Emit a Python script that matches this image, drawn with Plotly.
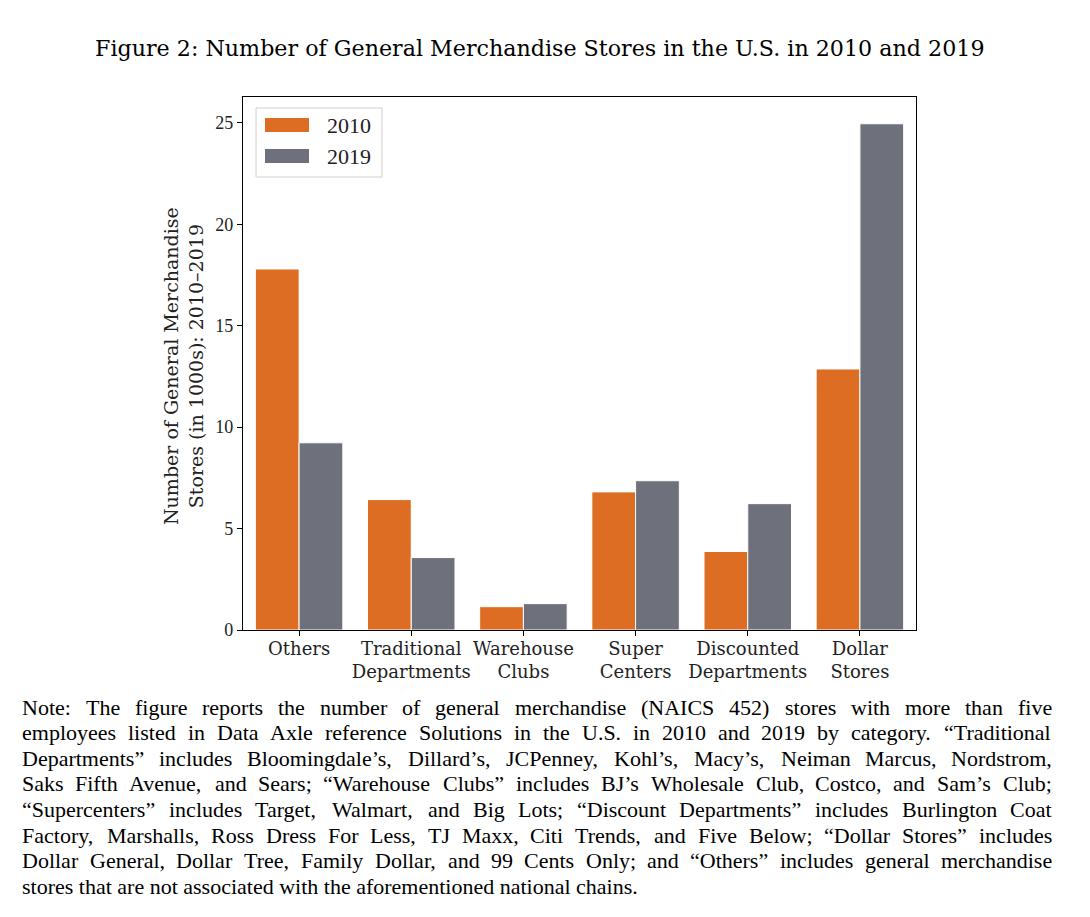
import plotly.graph_objects as go

categories = ["Others", "Traditional<br>Departments", "Warehouse<br>Clubs", "Super<br>Centers",
              "Discounted<br>Departments", "Dollar<br>Stores"]
stores_2010 = [17.8, 6.43, 1.15, 6.81, 3.87, 12.87]
stores_2019 = [9.23, 3.57, 1.30, 7.36, 6.23, 24.96]
series_names = ["2010", "2019"]
y_ticks = [0, 5, 10, 15, 20, 25]

title_text = "Figure 2: Number of General Merchandise Stores in the U.S. in 2010 and 2019"
ylabel = "Number of General Merchandise<br>Stores (in 1000s): 2010–2019"
note_lines = [
    "Note:  The figure reports the number of general merchandise (NAICS 452) stores with more than five",
    "employees listed in Data Axle reference Solutions in the U.S. in 2010 and 2019 by category.  “Traditional",
    "Departments” includes Bloomingdale’s, Dillard’s, JCPenney, Kohl’s, Macy’s, Neiman Marcus, Nordstrom,",
    "Saks Fifth Avenue, and Sears; “Warehouse Clubs” includes BJ’s Wholesale Club, Costco, and Sam’s Club;",
    "“Supercenters” includes Target, Walmart, and Big Lots; “Discount Departments” includes Burlington Coat",
    "Factory, Marshalls, Ross Dress For Less, TJ Maxx, Citi Trends, and Five Below; “Dollar Stores” includes",
    "Dollar General, Dollar Tree, Family Dollar, and 99 Cents Only; and “Others” includes general merchandise",
    "stores that are not associated with the aforementioned national chains.",
]

ORANGE = "#DC6D22"
GRAY = "#6E717C"
SERIF_WIDE = "DejaVu Serif"
SERIF = "Liberation Serif"

# ---- geometry (reference pixel space; page body adds an 8px offset) ----
OFF = 8
W, H = 1090 - 2 * OFF, 917 - 2 * OFF
PL, PR, PT, PB = 243, 916, 97, 630  # plot frame in reference pixels
L, R, T, B = PL - OFF, PR - OFF, PT - OFF, PB - OFF


def X(px):
    return (px - OFF - L) / (R - L)


def Y(py):
    return (B - (py - OFF)) / (B - T)


x = list(range(len(categories)))
fig = go.Figure()
fig.add_trace(go.Bar(x=x, y=stores_2010, name=series_names[0],
                     marker=dict(color=ORANGE, line=dict(color="white", width=1))))
fig.add_trace(go.Bar(x=x, y=stores_2019, name=series_names[1],
                     marker=dict(color=GRAY, line=dict(color="white", width=1))))

fig.update_layout(
    width=W, height=H,
    margin=dict(l=L, r=W - R, t=T, b=H - B, pad=0),
    paper_bgcolor="white", plot_bgcolor="white",
    barmode="group", bargap=0.22, bargroupgap=0,
    font=dict(family=SERIF_WIDE, size=18, color="black"),
    showlegend=False,
    xaxis=dict(range=[-0.5, 5.5], tickmode="array", tickvals=x, ticktext=categories,
               tickangle=0, ticklabelstandoff=-3,
               showline=True, linecolor="black", linewidth=1.3, mirror=True,
               ticks="outside", ticklen=5, tickcolor="black", showgrid=False, zeroline=False,
               tickfont=dict(family=SERIF_WIDE, size=18, color="#222")),
    yaxis=dict(range=[0, 26.28], tickmode="array", tickvals=y_ticks,
               showline=True, linecolor="black", linewidth=1.3, mirror=True,
               ticks="outside", ticklen=5, tickcolor="black", showgrid=False, zeroline=False,
               tickfont=dict(family=SERIF, size=18, color="#222")),
)

shapes = []
annotations = []

# title
annotations.append(dict(text=title_text, x=X(540), y=Y(48), xref="paper", yref="paper",
                        xanchor="center", yanchor="middle", showarrow=False,
                        font=dict(family=SERIF_WIDE, size=22.2, color="black")))

# y-axis label
annotations.append(dict(text=ylabel, xref="paper", yref="paper",
                        x=X(183), y=Y(366), xanchor="center", yanchor="middle",
                        textangle=-90, showarrow=False,
                        font=dict(family=SERIF_WIDE, size=19, color="#222")))

# legend (box, swatches, labels)
shapes.append(dict(type="rect", xref="paper", yref="paper",
                   x0=X(256), x1=X(382), y0=Y(108), y1=Y(177),
                   line=dict(color="#D0D0D0", width=1), fillcolor="white", layer="above"))
for color, name, yc in [(ORANGE, series_names[0], 125), (GRAY, series_names[1], 156)]:
    shapes.append(dict(type="rect", xref="paper", yref="paper",
                       x0=X(265), x1=X(309), y0=Y(yc - 7), y1=Y(yc + 7),
                       line=dict(width=0), fillcolor=color, layer="above"))
    annotations.append(dict(text=name, xref="paper", yref="paper", x=X(327), y=Y(yc + 1),
                            xanchor="left", yanchor="middle", showarrow=False,
                            borderpad=0, borderwidth=0,
                            font=dict(family=SERIF, size=22, color="#222")))

# note text, justified word by word (Times metrics, /1000 em)
CW = {" ": 250, "!": 333, "&": 778, "(": 333, ")": 333, ",": 250, "-": 333, ".": 250, ":": 278,
      ";": 278, "’": 333, "‘": 333, "“": 444, "”": 444, "–": 500, "'": 180}
for c in "0123456789":
    CW[c] = 500
CW.update(dict(zip("ABCDEFGHIJKLMNOPQRSTUVWXYZ",
                   [722, 667, 667, 722, 611, 556, 722, 722, 333, 389, 722, 611, 889, 722, 722, 556,
                    722, 667, 556, 611, 722, 722, 944, 722, 722, 611])))
CW.update(dict(zip("abcdefghijklmnopqrstuvwxyz",
                   [444, 500, 444, 500, 444, 333, 500, 500, 278, 278, 500, 278, 778, 500, 500, 500,
                    500, 333, 389, 278, 500, 500, 722, 500, 500, 444])))
NOTE_SIZE = 22
NOTE_LEFT, NOTE_RIGHT = 22, 1052


def tw(s):
    return sum(CW.get(c, 500) for c in s) / 1000 * NOTE_SIZE


for i, line in enumerate(note_lines):
    ypix = 707 + i * 25.6
    if i == len(note_lines) - 1:
        annotations.append(dict(text=line, xref="paper", yref="paper", x=X(NOTE_LEFT), y=Y(ypix),
                                xanchor="left", yanchor="middle", showarrow=False,
                                borderpad=0, borderwidth=0,
                                font=dict(family=SERIF, size=NOTE_SIZE, color="black")))
        continue
    words = line.split()
    widths = [tw(w) for w in words]
    gap = (NOTE_RIGHT - NOTE_LEFT - sum(widths)) / (len(words) - 1)
    cur = NOTE_LEFT
    for w, wd in zip(words, widths):
        annotations.append(dict(text=w, xref="paper", yref="paper", x=X(cur), y=Y(ypix),
                                xanchor="left", yanchor="middle", showarrow=False,
                                borderpad=0, borderwidth=0,
                                font=dict(family=SERIF, size=NOTE_SIZE, color="black")))
        cur += wd + gap

fig.update_layout(shapes=shapes, annotations=annotations)
fig.write_html("out.html")
